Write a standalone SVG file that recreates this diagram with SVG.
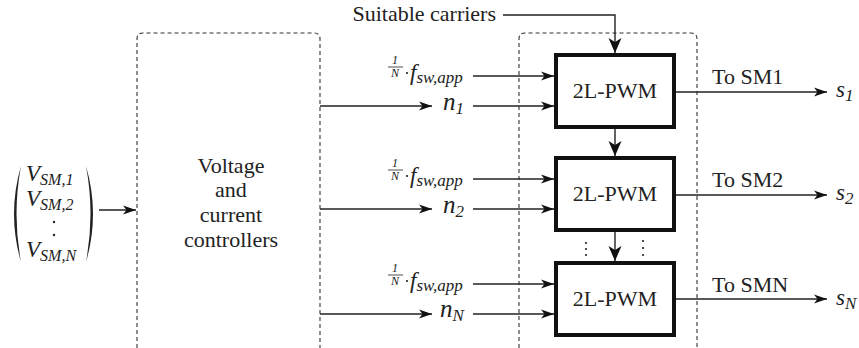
<svg xmlns="http://www.w3.org/2000/svg" width="859" height="348" viewBox="0 0 859 348">
<defs>
<style>
.t{font-family:"Liberation Serif","Times New Roman",serif;font-size:22px;fill:#222}
.m{font-family:"Liberation Serif","Times New Roman",serif;font-style:italic;fill:#222}
.dash{fill:none;stroke:#333;stroke-width:1.1;stroke-dasharray:4 3}
.ln{fill:none;stroke:#222;stroke-width:1.4}
.pwm{fill:#fff;stroke:#111;stroke-width:4}
.dot{fill:#222}
</style>
<marker id="ah" markerUnits="userSpaceOnUse" markerWidth="14" markerHeight="10" refX="13" refY="5" orient="auto">
<path d="M0,0.5 L13,5 L0,9.5 L3.5,5 Z" fill="#111"/>
</marker>
<marker id="ahb" markerUnits="userSpaceOnUse" markerWidth="16" markerHeight="14" refX="15" refY="7" orient="auto">
<path d="M0,0.5 L15,7 L0,13.5 L4,7 Z" fill="#111"/>
</marker>
</defs>

<g id="input-vector">
<path d="M21,166 Q7,214 21,262 Q12,214 21,166 Z" fill="#222"/>
<path d="M86,166 Q100,214 86,262 Q95,214 86,166 Z" fill="#222"/>
<text class="m" x="26" y="181" font-size="23">V<tspan font-size="16" dy="4">SM,1</tspan></text>
<text class="m" x="26" y="206" font-size="23">V<tspan font-size="16" dy="4">SM,2</tspan></text>
<circle class="dot" cx="54" cy="222" r="1.2"/>
<circle class="dot" cx="54" cy="235" r="1.2"/>
<text class="m" x="26" y="257" font-size="23">V<tspan font-size="16" dy="4">SM,N</tspan></text>
</g>

<g id="controllers">
<path class="dash" d="M137,348 V39 Q137,33 143,33 H314 Q320,33 320,39 V348"/>
<text class="t" text-anchor="middle" x="231" y="173">Voltage</text>
<text class="t" text-anchor="middle" x="231" y="197">and</text>
<text class="t" text-anchor="middle" x="231" y="222">current</text>
<text class="t" text-anchor="middle" x="231" y="247">controllers</text>
</g>

<g id="modulator-frame">
<path class="dash" d="M519,348 V39 Q519,33 525,33 H691 Q697,33 697,39 V348"/>
</g>

<g id="carriers-label">
<text class="t" text-anchor="end" x="496" y="21">Suitable carriers</text>
</g>

<g id="labels-1">
<text class="m" x="395" y="64" font-size="12" text-anchor="middle">1</text>
<line x1="388" y1="67" x2="403" y2="67" stroke="#222" stroke-width="0.8"/>
<text class="m" x="395" y="77" font-size="12" text-anchor="middle">N</text>
<circle class="dot" cx="407" cy="73" r="1.1"/>
<text class="m" x="410" y="80" font-size="23">f<tspan font-size="17" dy="3">sw,app</tspan></text>
<text class="m" x="443" y="110" font-size="25">n<tspan font-size="17" dy="4">1</tspan></text>
</g>
<g id="labels-2">
<text class="m" x="395" y="167" font-size="12" text-anchor="middle">1</text>
<line x1="388" y1="170" x2="403" y2="170" stroke="#222" stroke-width="0.8"/>
<text class="m" x="395" y="180" font-size="12" text-anchor="middle">N</text>
<circle class="dot" cx="407" cy="176" r="1.1"/>
<text class="m" x="410" y="183" font-size="23">f<tspan font-size="17" dy="3">sw,app</tspan></text>
<text class="m" x="443" y="213" font-size="25">n<tspan font-size="17" dy="4">2</tspan></text>
</g>
<g id="labels-N">
<text class="m" x="395" y="272" font-size="12" text-anchor="middle">1</text>
<line x1="388" y1="275" x2="403" y2="275" stroke="#222" stroke-width="0.8"/>
<text class="m" x="395" y="285" font-size="12" text-anchor="middle">N</text>
<circle class="dot" cx="407" cy="281" r="1.1"/>
<text class="m" x="410" y="288" font-size="23">f<tspan font-size="17" dy="3">sw,app</tspan></text>
<text class="m" x="440" y="317" font-size="25">n<tspan font-size="17" dy="4">N</tspan></text>
</g>

<g id="pwm-1">
<rect class="pwm" x="556" y="55" width="118" height="72"/>
<text class="t" font-size="21" text-anchor="middle" x="615" y="98">2L-PWM</text>
</g>
<g id="pwm-2">
<rect class="pwm" x="556" y="158" width="118" height="72"/>
<text class="t" font-size="21" text-anchor="middle" x="615" y="201">2L-PWM</text>
</g>
<g id="pwm-N">
<rect class="pwm" x="556" y="263" width="118" height="72"/>
<text class="t" font-size="21" text-anchor="middle" x="615" y="306">2L-PWM</text>
</g>

<g id="outputs">
<text class="t" x="712" y="84">To SM1</text>
<text class="m" x="836" y="97" font-size="23">s<tspan font-size="17" dy="4">1</tspan></text>
<text class="t" x="712" y="187">To SM2</text>
<text class="m" x="836" y="200" font-size="23">s<tspan font-size="17" dy="4">2</tspan></text>
<text class="t" x="712" y="292">To SMN</text>
<text class="m" x="836" y="305" font-size="23">s<tspan font-size="17" dy="4">N</tspan></text>
</g>

<g id="ellipsis">
<circle class="dot" cx="586" cy="243" r="1.1"/>
<circle class="dot" cx="586" cy="249" r="1.1"/>
<circle class="dot" cx="586" cy="255" r="1.1"/>
<circle class="dot" cx="643" cy="241" r="1.1"/>
<circle class="dot" cx="643" cy="248" r="1.1"/>
<circle class="dot" cx="643" cy="255" r="1.1"/>
</g>

<g id="connectors">
<line class="ln" x1="99" y1="210" x2="136" y2="210" marker-end="url(#ah)"/>
<polyline class="ln" points="503,15 615,15 615,53" marker-end="url(#ahb)"/>
<line class="ln" x1="473" y1="76" x2="554" y2="76" marker-end="url(#ah)"/>
<line class="ln" x1="320" y1="106" x2="432" y2="106" marker-end="url(#ah)"/>
<line class="ln" x1="473" y1="106" x2="554" y2="106" marker-end="url(#ah)"/>
<line class="ln" x1="473" y1="179" x2="554" y2="179" marker-end="url(#ah)"/>
<line class="ln" x1="320" y1="209" x2="432" y2="209" marker-end="url(#ah)"/>
<line class="ln" x1="473" y1="209" x2="554" y2="209" marker-end="url(#ah)"/>
<line class="ln" x1="473" y1="284" x2="554" y2="284" marker-end="url(#ah)"/>
<line class="ln" x1="320" y1="314" x2="432" y2="314" marker-end="url(#ah)"/>
<line class="ln" x1="473" y1="314" x2="554" y2="314" marker-end="url(#ah)"/>
<line class="ln" x1="615" y1="129" x2="615" y2="156" stroke-width="2.2" marker-end="url(#ahb)"/>
<line class="ln" x1="615" y1="232" x2="615" y2="261" stroke-width="2.2" marker-end="url(#ahb)"/>
<line class="ln" x1="676" y1="92" x2="827" y2="92" marker-end="url(#ah)"/>
<line class="ln" x1="676" y1="195" x2="827" y2="195" marker-end="url(#ah)"/>
<line class="ln" x1="676" y1="299" x2="827" y2="299" marker-end="url(#ah)"/>
</g>
</svg>
